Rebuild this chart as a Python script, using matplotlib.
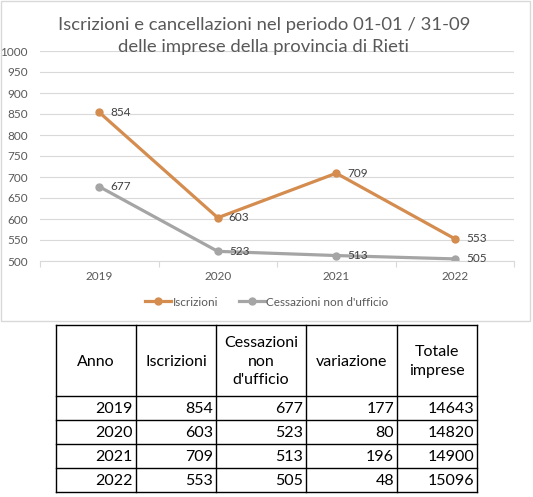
import matplotlib
matplotlib.use("Agg")
from matplotlib import pyplot as plt
from matplotlib.patches import Rectangle
from matplotlib.lines import Line2D

plt.rcParams['font.family'] = ['Lato', 'DejaVu Sans']

anni = ['2019', '2020', '2021', '2022']
iscrizioni = [854, 603, 709, 553]
cessazioni = [677, 523, 513, 505]
variazione = [177, 80, 196, 48]
totale_imprese = [14643, 14820, 14900, 15096]
y_ticks = [500, 550, 600, 650, 700, 750, 800, 850, 900, 950, 1000]

W, H = 533, 497
ORANGE = '#D48C4F'
GREY = '#A5A5A5'
TXT = '#595959'


def fx(px):
    return px / W


def fy(py):
    return 1 - py / H


fig = plt.figure(figsize=(W / 100, H / 100), dpi=100)
fig.patch.set_facecolor('white')

# chart frame (light grey border)
fig.patches.append(Rectangle((fx(1), fy(321)), fx(530) - fx(1), fy(1) - fy(321),
                             transform=fig.transFigure, fill=False,
                             edgecolor='#D9D9D9', linewidth=1))

# line chart
ax = fig.add_axes([fx(40), fy(261), fx(514) - fx(40), fy(51) - fy(261)])
x = list(range(len(anni)))
ax.plot(x, iscrizioni, color=ORANGE, linewidth=2.3, marker='o', markersize=5, label='Iscrizioni')
ax.plot(x, cessazioni, color=GREY, linewidth=2.3, marker='o', markersize=5, label="Cessazioni non d'ufficio")
for xi, v in zip(x, iscrizioni):
    ax.annotate(str(v), (xi, v), xytext=(8, 0), textcoords='offset points',
                va='center', ha='left', fontsize=8.5, color='#404040')
for xi, v in zip(x, cessazioni):
    ax.annotate(str(v), (xi, v), xytext=(8, 0), textcoords='offset points',
                va='center', ha='left', fontsize=8.5, color='#404040')

ax.set_xlim(-0.5, 3.5)
ax.set_ylim(500, 1000)
ax.set_yticks(y_ticks)
ax.set_xticks(x)
ax.set_xticklabels(anni)
ax.set_xticks([-0.5, 0.5, 1.5, 2.5, 3.5], minor=True)
ax.tick_params(axis='x', which='major', length=0, labelsize=8.5, labelcolor=TXT, pad=7)
ax.tick_params(axis='x', which='minor', length=4, color='#D9D9D9', width=0.8)
ax.tick_params(axis='y', length=0, labelsize=8.5, labelcolor=TXT, pad=9)
ax.grid(axis='y', color='#D9D9D9', linewidth=0.8)
ax.set_axisbelow(True)
for s in ['top', 'right', 'left']:
    ax.spines[s].set_visible(False)
ax.spines['bottom'].set_color('#D9D9D9')
ax.spines['bottom'].set_linewidth(0.8)

fig.text(fx(264), fy(25), 'Iscrizioni e cancellazioni nel periodo 01-01 / 31-09',
         ha='center', va='center', fontsize=13.3, color=TXT)
fig.text(fx(264), fy(47), 'delle imprese della provincia di Rieti',
         ha='center', va='center', fontsize=13.3, color=TXT)

handles = [Line2D([], [], color=ORANGE, linewidth=2.3, marker='o', markersize=5),
           Line2D([], [], color=GREY, linewidth=2.3, marker='o', markersize=5)]
fig.legend(handles, ['Iscrizioni', "Cessazioni non d'ufficio"], loc='center',
           bbox_to_anchor=(fx(267), fy(302)), ncol=2, frameon=False, fontsize=8.5,
           labelcolor=TXT, handlelength=2.2, handletextpad=0.1, columnspacing=1.8)

# table under the chart
col_x = [56, 136, 216, 306, 397, 477]
row_y = [325, 396, 420, 444, 468, 492]
for cx in col_x:
    fig.add_artist(Line2D([fx(cx), fx(cx)], [fy(row_y[0]), fy(row_y[-1])],
                          transform=fig.transFigure, color='black', linewidth=1))
for ry in row_y:
    fig.add_artist(Line2D([fx(col_x[0]), fx(col_x[-1])], [fy(ry), fy(ry)],
                          transform=fig.transFigure, color='black', linewidth=1))

headers = ['Anno', 'Iscrizioni', "Cessazioni\nnon\nd'ufficio", 'variazione', 'Totale\nimprese']
head_mid = (row_y[0] + row_y[1]) / 2
for i, h in enumerate(headers):
    cx = (col_x[i] + col_x[i + 1]) / 2
    fig.text(fx(cx), fy(head_mid + 1), h, ha='center', va='center', fontsize=11.5,
             color='black', linespacing=1.45)

columns = [anni, iscrizioni, cessazioni, variazione, totale_imprese]
for r in range(len(anni)):
    cy = (row_y[r + 1] + row_y[r + 2]) / 2
    for c, col in enumerate(columns):
        fig.text(fx(col_x[c + 1] - 3), fy(cy + 1), str(col[r]), ha='right', va='center',
                 fontsize=11.5, color='black')

fig.savefig('out.png', dpi=100, facecolor='white')
